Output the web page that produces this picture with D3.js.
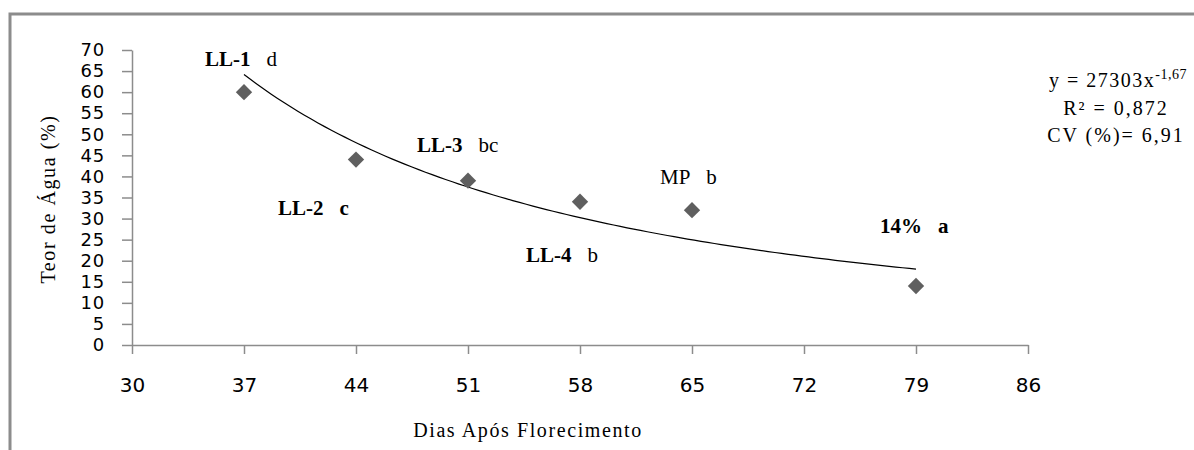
<!DOCTYPE html>
<html><head><meta charset="utf-8">
<script src="https://cdn.jsdelivr.net/npm/d3@7"></script>
<style>body{margin:0;background:#fff}svg{display:block}</style>
</head><body>
<svg id="c" width="1194" height="450"></svg>
<script>
const days = [37, 44, 51, 58, 65, 79];
const water = [60, 44, 39, 34, 32, 14];
const stageNames = ["LL-1", "LL-2", "LL-3", "LL-4", "MP", "14%"];
const stageLetters = ["d", "c", "bc", "b", "b", "a"];
const xTicks = [30, 37, 44, 51, 58, 65, 72, 79, 86];
const yTicks = [0, 5, 10, 15, 20, 25, 30, 35, 40, 45, 50, 55, 60, 65, 70];
const eqLines = ["R² = 0,872", "CV (%)= 6,91"];

const svg = d3.select("#c");
const x = d3.scaleLinear().domain([30, 86]).range([132, 1028]);
const y = d3.scaleLinear().domain([0, 70]).range([345, 50]);

svg.append("path").attr("d", "M10,460 L10,14 L1200,14")
  .attr("fill", "none").attr("stroke", "#8c8c8c").attr("stroke-width", 3);

const gray = "#8c8c8c";
const sans = "DejaVu Sans, Verdana, sans-serif";
const serif = "Liberation Serif, Times New Roman, serif";

const ya = svg.append("g").attr("transform", "translate(132,0)")
  .call(d3.axisLeft(y).tickValues(yTicks).tickSize(10).tickPadding(17).tickSizeOuter(0));
ya.select(".domain").attr("stroke", gray).attr("stroke-width", 1.5);
ya.selectAll(".tick line").attr("stroke", gray).attr("stroke-width", 1.5);
ya.selectAll(".tick text").attr("font-family", sans).attr("font-size", 18)
  .attr("letter-spacing", 0.8).attr("fill", "#000");

const xa = svg.append("g").attr("transform", "translate(0,345)")
  .call(d3.axisBottom(x).tickValues(xTicks).tickSize(9).tickPadding(24).tickSizeOuter(0));
xa.select(".domain").attr("stroke", gray).attr("stroke-width", 1.5);
xa.selectAll(".tick line").attr("stroke", gray).attr("stroke-width", 1.5);
xa.selectAll(".tick text").attr("font-family", sans).attr("font-size", 20).attr("fill", "#000");

// power regression fitted to the data (log-log least squares)
const lx = days.map(Math.log), ly = water.map(Math.log);
const mx = d3.mean(lx), my = d3.mean(ly);
const b = d3.sum(lx.map((v, i) => (v - mx) * (ly[i] - my))) / d3.sum(lx.map(v => (v - mx) ** 2));
const lnA = my - b * mx;
const xs = d3.range(0, 101).map(i => days[0] + (days[days.length - 1] - days[0]) * i / 100);
svg.append("path")
  .attr("d", d3.line().x(d => x(d)).y(d => y(Math.exp(lnA + b * Math.log(d))))(xs))
  .attr("fill", "none").attr("stroke", "#000").attr("stroke-width", 1.2);

svg.selectAll(".pt").data(days).join("path")
  .attr("transform", (d, i) => `translate(${x(d)},${y(water[i])})`)
  .attr("d", d3.symbol().type(d3.symbolDiamond2).size(170))
  .attr("fill", "#5f5f5f");

const labelPos = [[205, 66], [278, 215], [417, 152], [526, 262], [660, 184], [880, 233]];
const letterBold = [false, true, false, false, false, true];
stageNames.forEach((n, i) => {
  const t = svg.append("text").attr("x", labelPos[i][0]).attr("y", labelPos[i][1])
    .attr("font-family", serif).attr("font-size", 21).attr("fill", "#000");
  t.append("tspan").attr("font-weight", n === "MP" ? "normal" : "bold").text(n);
  t.append("tspan").attr("dx", 16).attr("font-weight", letterBold[i] ? "bold" : "normal").text(stageLetters[i]);
});

const eq = svg.append("text").attr("x", 1118).attr("y", 87).attr("text-anchor", "middle")
  .attr("font-family", serif).attr("font-size", 20).attr("letter-spacing", 1.5).attr("fill", "#000");
eq.append("tspan").text("y = 27303x");
eq.append("tspan").attr("dy", -8).attr("font-size", 14).attr("letter-spacing", 0.5).text("-1,67");
eqLines.forEach((s, i) => {
  svg.append("text").attr("x", 1116).attr("y", 115 + i * 27).attr("text-anchor", "middle")
    .attr("font-family", serif).attr("font-size", 20).attr("letter-spacing", 2).attr("fill", "#000").text(s);
});

svg.append("text").attr("x", 528).attr("y", 437).attr("text-anchor", "middle")
  .attr("font-family", serif).attr("font-size", 20).attr("letter-spacing", 1.6).attr("fill", "#000")
  .text("Dias Após Florecimento");
svg.append("text").attr("transform", "translate(55,199) rotate(-90)").attr("text-anchor", "middle")
  .attr("font-family", serif).attr("font-size", 20).attr("letter-spacing", 1.6).attr("fill", "#000")
  .text("Teor de Água (%)");
</script>
</body></html>
